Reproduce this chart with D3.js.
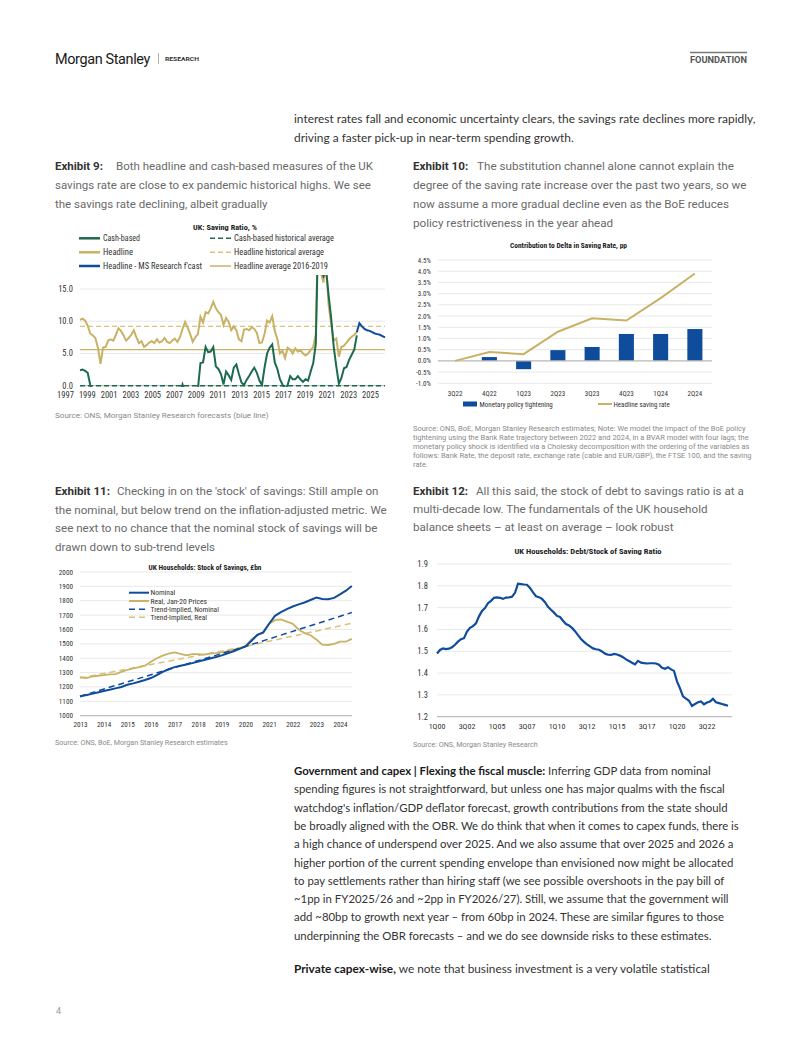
<!DOCTYPE html>
<html><head><meta charset="utf-8">
<script src="https://cdn.jsdelivr.net/npm/d3@7/dist/d3.min.js"></script>
<style>html,body{margin:0;padding:0;background:#fff;} svg{display:block;}</style>
</head><body>
<svg id="page" width="802" height="1037"></svg>
<script>
// ================= DATA =================
// Exhibit 9 – UK saving ratio, %, quarterly from 1997Q1
const ex9Headline = [10.2,10.4,10.1,9.3,8.1,7.8,7.4,5.9,3.4,5.9,
  6.0,7.0,7.2,7.0,7.9,8.9,8.5,7.8,7.0,7.4,
  7.9,8.6,7.5,6.6,6.9,6.0,6.3,6.7,6.9,6.6,
  7.2,6.7,6.9,7.4,6.8,6.6,7.0,7.3,6.8,7.5,
  8.8,9.9,9.0,8.0,6.8,7.5,8.0,10.7,9.8,11.4,
  11.2,12.0,13.0,12.0,11.4,11.0,9.4,10.5,9.9,8.6,
  9.2,8.6,7.2,6.9,8.7,8.8,8.6,9.1,8.8,8.2,
  6.6,6.7,8.0,10.1,9.8,10.8,8.5,7.2,5.0,5.4,
  4.3,5.9,5.6,5.0,5.8,5.3,5.5,5.0,4.7,5.0,
  5.5,6.0,8.0,27.0,17.5,16.0,19.0,12.5,9.5,7.0,
  7.3,4.5,6.0,6.2,6.7,7.2,7.6,7.9,8.3];
const ex9CashBased = [2.4,2.5,2.3,2.0,0.1,
  -1.0,-2.0,-2.5,-3.0,-2.0,-1.5,-2.0,-2.5,-3.0,-3.5,-3.0,-2.5,-3.0,-3.5,-4.0,-3.5,-3.0,-3.5,-4.0,-4.5,
  -4.0,-3.5,-4.0,-4.5,-5.0,-4.5,-4.0,-4.5,-5.0,-4.5,-4.0,-3.5,-3.0,-2.5,-1.0,
  0.2,-1.0,-2.0,-2.5,-2.0,-1.5,-0.5,
  3.5,3.6,6.0,5.2,5.3,6.0,3.0,2.6,1.8,0.2,
  2.2,1.6,0.9,2.8,3.3,1.8,0.5,0.1,0.9,1.5,
  2.2,2.8,2.0,0.8,0.1,2.8,5.0,5.9,6.4,3.6,
  2.6,1.0,0.2,-0.5,0.1,1.5,1.0,1.0,1.5,1.0,
  0.6,1.0,0.8,2.2,3.5,6.5,25.0,18.0,17.0,18.0,
  14.0,10.5,6.0,3.0,0.3,1.2,2.7,2.9,4.0,4.8,
  5.6,7.8];
const ex9ForecastStartIdx = 108;
const ex9Forecast = [8.3,9.7,9.2,8.8,8.6,8.5,8.3,8.1,8.0,7.9,7.7,7.5];
const ex9CashHistAvg = 0.0;
const ex9HeadlineHistAvg = 9.2;
const ex9Headline1619Avg = 5.6;
const ex9YTicks = [0, 5, 10, 15];
const ex9XTicks = [1997,1999,2001,2003,2005,2007,2009,2011,2013,2015,2017,2019,2021,2023,2025];

// Exhibit 10 – contribution to delta in saving rate, pp
const ex10Cats = ["3Q22","4Q22","1Q23","2Q23","3Q23","4Q23","1Q24","2Q24"];
const ex10Monetary = [0, 0.17, -0.37, 0.48, 0.62, 1.2, 1.2, 1.42];
const ex10Headline = [0, 0.4, 0.3, 1.3, 1.9, 1.8, 2.8, 3.9];
const ex10YTicks = [-1,-0.5,0,0.5,1,1.5,2,2.5,3,3.5,4,4.5];

// Exhibit 11 – stock of savings, £bn, quarterly from 2013Q1
const ex11Nominal = [1133,1143,1152,1162, 1172,1180,1190,1200, 1215,1225,1236,1248,
  1262,1282,1305,1323, 1338,1348,1356,1366, 1377,1388,1398,1408, 1420,1435,1448,1465,
  1482,1520,1562,1580, 1640,1695,1720,1742, 1760,1775,1788,1805, 1822,1812,1810,1820,
  1845,1870,1903];
const ex11Real = [1268,1262,1272,1278, 1282,1288,1290,1305, 1318,1330,1338,1348,
  1375,1400,1418,1432, 1440,1430,1420,1428, 1428,1425,1432,1435, 1440,1450,1458,1468,
  1482,1530,1560,1575, 1640,1665,1670,1655, 1640,1600,1575,1560, 1530,1495,1492,1500,
  1515,1515,1535];
const ex11TrendYears = [2013, 2016, 2020, 2024.5];
const ex11TrendNominal = [1135, 1285, 1482, 1718];
const ex11TrendReal = [1262, 1356, 1482, 1643];
const ex11YTicks = [1000,1100,1200,1300,1400,1500,1600,1700,1800,1900,2000];
const ex11XTicks = [2013,2014,2015,2016,2017,2018,2019,2020,2021,2022,2023,2024];

// Exhibit 12 – debt / stock of saving ratio, quarterly from 1Q00
const ex12Ratio = [1.490,1.506,1.513,1.510,1.512,1.518,1.530,1.544,1.555,1.560,
  1.590,1.607,1.615,1.628,1.660,1.685,1.698,1.720,1.731,1.745,
  1.747,1.745,1.740,1.746,1.747,1.750,1.768,1.810,1.808,1.806,
  1.805,1.790,1.770,1.752,1.748,1.740,1.725,1.704,1.690,1.677,
  1.662,1.657,1.640,1.625,1.618,1.607,1.592,1.574,1.556,1.543,
  1.532,1.522,1.513,1.509,1.507,1.499,1.489,1.484,1.483,1.488,
  1.485,1.480,1.473,1.463,1.455,1.447,1.440,1.456,1.448,1.446,
  1.444,1.445,1.445,1.444,1.438,1.424,1.420,1.427,1.417,1.410,
  1.362,1.330,1.293,1.283,1.273,1.249,1.258,1.266,1.270,1.257,
  1.265,1.270,1.282,1.266,1.262,1.258,1.254,1.250];
const ex12XLabels = ["1Q00","3Q02","1Q05","3Q07","1Q10","3Q12","1Q15","3Q17","1Q20","3Q22"];
const ex12YTicks = [1.2,1.3,1.4,1.5,1.6,1.7,1.8,1.9];

// ================= STYLE =================
const C_BLUE = "#0f4c9c", C_GOLD = "#c8b266", C_GOLD_L = "#d6c37a", C_GREEN = "#1d6a4e";
const C_GRID = "#e3e3e3", C_AXIS = "#bdbdbd", C_TXT = "#333";
const CH_FONT = "'Liberation Sans Narrow','Roboto Condensed','DejaVu Sans Condensed',Roboto,sans-serif";
const BODY_FONT = "Lato,'Open Sans',sans-serif";
const CAP_FONT = "Roboto,'Noto Sans',sans-serif";

const svg = d3.select("#page");
svg.append("rect").attr("width",802).attr("height",1037).attr("fill","#fff");

function textBlock(opt){
  const g = svg.append("g");
  const t = g.selectAll("text").data(opt.lines).join("text")
    .attr("x", opt.x).attr("y", (d,i)=>opt.y0 + i*opt.lh)
    .attr("font-family", opt.font).attr("font-size", opt.size).attr("fill", opt.color);
  t.each(function(d){
    const el = d3.select(this);
    (Array.isArray(d)?d:[{t:d}]).forEach(s=>{
      const ts = el.append("tspan").text(s.t);
      if (s.b) ts.attr("font-weight","bold").attr("fill", opt.boldColor||opt.color);
      if (s.x!=null) ts.attr("x", s.x);
    });
  });
  if (opt.refW){
    const w = t.nodes()[opt.ref].getComputedTextLength();
    t.attr("font-size", opt.size*opt.refW/w);
  }
  return g;
}
function fit(sel, w){ sel.attr("textLength", w).attr("lengthAdjust","spacingAndGlyphs"); return sel; }

// ================= HEADER =================
fit(svg.append("text").attr("x",55).attr("y",63.5).attr("font-family","Roboto,sans-serif")
  .attr("font-size",15.5).attr("fill","#1a1a1a").attr("letter-spacing",-0.4).text("Morgan Stanley"), 95);
svg.append("line").attr("x1",158.5).attr("x2",158.5).attr("y1",53).attr("y2",64).attr("stroke","#999").attr("stroke-width",0.8);
fit(svg.append("text").attr("x",165).attr("y",61).attr("font-family","Roboto,sans-serif").attr("font-weight","bold")
  .attr("font-size",5.5).attr("fill","#333").text("RESEARCH"), 34);
svg.append("line").attr("x1",690).attr("x2",747).attr("y1",52.5).attr("y2",52.5).attr("stroke","#777").attr("stroke-width",1.6);
fit(svg.append("text").attr("x",690).attr("y",63).attr("font-family","Roboto,sans-serif").attr("font-weight","bold")
  .attr("font-size",8.5).attr("fill","#555").text("FOUNDATION"), 57);

// ================= BODY TEXT =================
textBlock({x:294, y0:123, lh:19, font:BODY_FONT, size:13, color:C_TXT, ref:0, refW:462,
  lines:["interest rates fall and economic uncertainty clears, the savings rate declines more rapidly,",
         "driving a faster pick-up in near-term spending growth."]});

textBlock({x:294, y0:775, lh:18.3, font:BODY_FONT, size:13, color:C_TXT, boldColor:"#1a1a1a", ref:3, refW:445,
  lines:[[{t:"Government and capex | Flexing the fiscal muscle:",b:true},{t:" Inferring GDP data from nominal"}],
    "spending figures is not straightforward, but unless one has major qualms with the fiscal",
    "watchdog's inflation/GDP deflator forecast, growth contributions from the state should",
    "be broadly aligned with the OBR. We do think that when it comes to capex funds, there is",
    "a high chance of underspend over 2025. And we also assume that over 2025 and 2026 a",
    "higher portion of the current spending envelope than envisioned now might be allocated",
    "to pay settlements rather than hiring staff (we see possible overshoots in the pay bill of",
    "~1pp in FY2025/26 and ~2pp in FY2026/27). Still, we assume that the government will",
    "add ~80bp to growth next year \u2013 from 60bp in 2024. These are similar figures to those",
    "underpinning the OBR forecasts \u2013 and we do see downside risks to these estimates."]});
textBlock({x:294, y0:972.8, lh:18.3, font:BODY_FONT, size:13, color:C_TXT, boldColor:"#1a1a1a", ref:0, refW:416,
  lines:[[{t:"Private capex-wise,",b:true},{t:" we note that business investment is a very volatile statistical"}]]});

// ================= CAPTIONS =================
const capBase = {font:CAP_FONT, size:12.5, color:"#6a6a6a", boldColor:"#333"};
textBlock(Object.assign({x:55, y0:169.5, lh:19.2, ref:1, refW:316,
  lines:[[{t:"Exhibit 9:",b:true},{t:"Both headline and cash-based measures of the UK",x:116}],
    "savings rate are close to ex pandemic historical highs. We see",
    "the savings rate declining, albeit gradually"]}, capBase));
textBlock(Object.assign({x:413, y0:169.5, lh:19.2, ref:1, refW:334,
  lines:[[{t:"Exhibit 10:",b:true},{t:"The substitution channel alone cannot explain the",x:477}],
    "degree of the saving rate increase over the past two years, so we",
    "now assume a more gradual decline even as the BoE reduces",
    "policy restrictiveness in the year ahead"]}, capBase));
textBlock(Object.assign({x:55, y0:495, lh:18.7, ref:1, refW:332,
  lines:[[{t:"Exhibit 11:",b:true},{t:"Checking in on the 'stock' of savings: Still ample on",x:117}],
    "the nominal, but below trend on the inflation-adjusted metric. We",
    "see next to no chance that the nominal stock of savings will be",
    "drawn down to sub-trend levels"]}, capBase));
textBlock(Object.assign({x:413, y0:494.5, lh:18.3, ref:1, refW:295,
  lines:[[{t:"Exhibit 12:",b:true},{t:"All this said, the stock of debt to savings ratio is at a",x:476}],
    "multi-decade low. The fundamentals of the UK household",
    "balance sheets \u2013 at least on average \u2013 look robust"]}, capBase));

// ================= SOURCES =================
const srcFont = {font:CAP_FONT, size:6.5, color:"#8a8a8a"};
textBlock(Object.assign({x:55, y0:418, lh:9, ref:0, refW:214,
  lines:["Source: ONS, Morgan Stanley Research forecasts (blue line)"]}, srcFont));
textBlock(Object.assign({x:413, y0:430.5, lh:9.1, ref:0, refW:333,
  lines:["Source: ONS, BoE, Morgan Stanley Research estimates; Note: We model the impact of the BoE policy",
    "tightening using the Bank Rate trajectory between 2022 and 2024, in a BVAR model with four lags; the",
    "monetary policy shock is identified via a Cholesky decomposition with the ordering of the variables as",
    "follows: Bank Rate, the deposit rate, exchange rate (cable and EUR/GBP), the FTSE 100, and the saving",
    "rate."]}, srcFont));
textBlock(Object.assign({x:55, y0:745, lh:9, ref:0, refW:173,
  lines:["Source: ONS, BoE, Morgan Stanley Research estimates"]}, srcFont));
textBlock(Object.assign({x:413, y0:747, lh:9, ref:0, refW:125,
  lines:["Source: ONS, Morgan Stanley Research"]}, srcFont));

svg.append("text").attr("x",56).attr("y",1014).attr("font-family",CAP_FONT).attr("font-size",9).attr("fill","#999").text("4");

// helpers for charts
function chartTitle(txt, cx, y, w){
  return fit(svg.append("text").attr("x",cx - w/2).attr("y",y).attr("font-family",CH_FONT)
    .attr("font-weight","bold").attr("font-size",8).attr("fill","#222").text(txt), w);
}
function grid(g, ys, x1, x2){
  g.selectAll(null).data(ys).join("line").attr("x1",x1).attr("x2",x2)
    .attr("y1",d=>d.y).attr("y2",d=>d.y)
    .attr("stroke",d=>d.base?C_AXIS:C_GRID).attr("stroke-width",d=>d.base?1.3:0.8);
}

// ================= EXHIBIT 9 =================
(function(){
  const g = svg.append("g");
  const x = d3.scaleLinear().domain([1997, 2026.75]).range([80, 385]);
  const xLab = d3.scaleLinear().domain([1997, 2025]).range([65, 370]);
  const y = d3.scaleLinear().domain([0, 15]).range([385.7, 289]);
  grid(g, ex9YTicks.map(v=>({y:y(v), base:v===0})), 80, 385);
  g.selectAll(null).data(ex9YTicks).join("text").attr("x",73).attr("y",v=>y(v)+3)
    .attr("text-anchor","end").attr("font-family",CH_FONT).attr("font-size",8.5).attr("fill",C_TXT)
    .text(d3.format(".1f"));
  const ax = g.append("g").attr("transform","translate(0,389)")
    .call(d3.axisBottom(xLab).tickValues(ex9XTicks).tickFormat(d3.format("d")).tickSize(0).tickPadding(3));
  ax.select(".domain").remove();
  ax.selectAll("text").attr("font-family",CH_FONT).attr("font-size",8.5).attr("fill",C_TXT);

  svg.append("defs").append("clipPath").attr("id","clip9").append("rect")
    .attr("x",78).attr("y",275).attr("width",310).attr("height",y(0)+1.3-275);
  const cg = g.append("g").attr("clip-path","url(#clip9)");
  const hl = (v,color,dash,w)=>cg.append("line").attr("x1",80).attr("x2",385).attr("y1",y(v)).attr("y2",y(v))
    .attr("stroke",color).attr("stroke-width",w).attr("stroke-dasharray",dash);
  hl(ex9Headline1619Avg, C_GOLD, null, 1.4);
  hl(ex9HeadlineHistAvg, C_GOLD_L, "5,3", 1.4);
  const line = d3.line().x(d=>x(d[0])).y(d=>y(d[1]));
  const q = (arr, s=0)=>arr.map((v,i)=>[1997 + (i+s)/4, v]);
  cg.append("path").attr("d",line(q(ex9Headline))).attr("fill","none").attr("stroke",C_GOLD).attr("stroke-width",2);
  cg.append("path").attr("d",line(q(ex9CashBased))).attr("fill","none").attr("stroke",C_GREEN).attr("stroke-width",2);
  cg.append("path").attr("d",line(q(ex9Forecast, ex9ForecastStartIdx))).attr("fill","none").attr("stroke",C_BLUE).attr("stroke-width",2);
  hl(ex9CashHistAvg, C_GREEN, "5,3", 1.5);

  chartTitle("UK: Saving Ratio, %", 225, 229.5, 64);
  const leg = [
    {t:"Cash-based", x:79, y:238.3, c:C_GREEN, d:null, w:2.5, tw:37},
    {t:"Headline", x:79, y:252.3, c:C_GOLD, d:null, w:2.5, tw:30},
    {t:"Headline - MS Research f'cast", x:79, y:266, c:C_BLUE, d:null, w:2.5, tw:99},
    {t:"Cash-based historical average", x:210, y:238.3, c:C_GREEN, d:"5,3", w:1.5, tw:100},
    {t:"Headline historical average", x:210, y:252.3, c:C_GOLD_L, d:"5,3", w:1.5, tw:90},
    {t:"Headline average 2016-2019", x:210, y:266, c:C_GOLD, d:null, w:1.5, tw:94}];
  leg.forEach(l=>{
    g.append("line").attr("x1",l.x).attr("x2",l.x+21).attr("y1",l.y).attr("y2",l.y)
      .attr("stroke",l.c).attr("stroke-width",l.w).attr("stroke-dasharray",l.d);
    fit(g.append("text").attr("x",l.x+24).attr("y",l.y+3).attr("font-family",CH_FONT).attr("font-size",8.5)
      .attr("fill",C_TXT).text(l.t), l.tw);
  });
})();

// ================= EXHIBIT 10 =================
(function(){
  const g = svg.append("g");
  const x = d3.scaleBand().domain(ex10Cats).range([438,712]).paddingInner(0.56).paddingOuter(0.28);
  const y = d3.scaleLinear().domain([-1, 4.5]).range([383.3, 260]);
  grid(g, ex10YTicks.map(v=>({y:y(v), base:false})), 438, 712);
  g.selectAll(null).data(ex10YTicks).join("text").attr("x",431).attr("y",v=>y(v)+2.5)
    .attr("text-anchor","end").attr("font-family",CH_FONT).attr("font-size",7).attr("fill",C_TXT)
    .text(v=>v.toFixed(1)+"%");
  g.selectAll(null).data(ex10Monetary).join("rect")
    .attr("x",(d,i)=>x(ex10Cats[i])).attr("width",x.bandwidth())
    .attr("y",d=>y(Math.max(0,d))).attr("height",d=>Math.abs(y(d)-y(0))).attr("fill",C_BLUE);
  g.append("line").attr("x1",438).attr("x2",712).attr("y1",y(0)).attr("y2",y(0)).attr("stroke",C_AXIS).attr("stroke-width",1.2);
  const line = d3.line().x((d,i)=>x(ex10Cats[i])+x.bandwidth()/2).y(d=>y(d));
  g.append("path").attr("d",line(ex10Headline)).attr("fill","none").attr("stroke",C_GOLD).attr("stroke-width",2);
  const ax = g.append("g").attr("transform","translate(0,389)")
    .call(d3.axisBottom(x).tickSize(0).tickPadding(2));
  ax.select(".domain").remove();
  ax.selectAll("text").attr("font-family",CH_FONT).attr("font-size",7).attr("fill",C_TXT);
  chartTitle("Contribution to Delta in Saving Rate, pp", 568.5, 247.5, 117);
  g.append("rect").attr("x",463).attr("y",401.5).attr("width",14).attr("height",5).attr("fill",C_BLUE);
  g.append("text").attr("x",479.5).attr("y",406.5).attr("font-family",CH_FONT).attr("font-size",7).attr("fill",C_TXT).text("Monetary policy tightening");
  g.append("line").attr("x1",598).attr("x2",612).attr("y1",404).attr("y2",404).attr("stroke",C_GOLD).attr("stroke-width",2);
  g.append("text").attr("x",613.5).attr("y",406.5).attr("font-family",CH_FONT).attr("font-size",7).attr("fill",C_TXT).text("Headline saving rate");
})();

// ================= EXHIBIT 11 =================
(function(){
  const g = svg.append("g");
  const x = d3.scaleLinear().domain([2013, 2024]).range([80, 340]);
  const y = d3.scaleLinear().domain([1000, 2000]).range([715.7, 572]);
  grid(g, ex11YTicks.map(v=>({y:y(v), base:v===1000})), 80, 352);
  g.selectAll(null).data(ex11YTicks).join("text").attr("x",73).attr("y",v=>y(v)+2.5)
    .attr("text-anchor","end").attr("font-family",CH_FONT).attr("font-size",7.2).attr("fill",C_TXT).text(d=>d);
  const ax = g.append("g").attr("transform","translate(0,720)")
    .call(d3.axisBottom(x).tickValues(ex11XTicks).tickFormat(d3.format("d")).tickSize(0).tickPadding(2));
  ax.select(".domain").remove();
  ax.selectAll("text").attr("font-family",CH_FONT).attr("font-size",7.2).attr("fill",C_TXT);
  const line = d3.line().x(d=>x(d[0])).y(d=>y(d[1]));
  const q = arr=>arr.map((v,i)=>[2013 + i/4, v]);
  const tr = arr=>arr.map((v,i)=>[ex11TrendYears[i], v]);
  g.append("path").attr("d",line(tr(ex11TrendReal))).attr("fill","none").attr("stroke",C_GOLD_L).attr("stroke-width",1.5).attr("stroke-dasharray","6,4");
  g.append("path").attr("d",line(q(ex11Real))).attr("fill","none").attr("stroke",C_GOLD).attr("stroke-width",1.8);
  g.append("path").attr("d",line(tr(ex11TrendNominal))).attr("fill","none").attr("stroke",C_BLUE).attr("stroke-width",1.5).attr("stroke-dasharray","6,4");
  g.append("path").attr("d",line(q(ex11Nominal))).attr("fill","none").attr("stroke",C_BLUE).attr("stroke-width",2);
  chartTitle("UK Households: Stock of Savings, £bn", 205, 569.5, 113);
  const leg = [
    {t:"Nominal", y:592.7, c:C_BLUE, d:null, w:2},
    {t:"Real, Jan-20 Prices", y:601, c:C_GOLD, d:null, w:2},
    {t:"Trend-Implied, Nominal", y:609.3, c:C_BLUE, d:"6,4", w:1.5},
    {t:"Trend-Implied, Real", y:617.3, c:C_GOLD_L, d:"6,4", w:1.5}];
  leg.forEach(l=>{
    g.append("line").attr("x1",129).attr("x2",149).attr("y1",l.y).attr("y2",l.y)
      .attr("stroke",l.c).attr("stroke-width",l.w).attr("stroke-dasharray",l.d);
    g.append("text").attr("x",150.5).attr("y",l.y+2.6).attr("font-family",CH_FONT).attr("font-size",7.5)
      .attr("fill",C_TXT).text(l.t);
  });
})();

// ================= EXHIBIT 12 =================
(function(){
  const g = svg.append("g");
  const x = d3.scaleLinear().domain([0, 97]).range([437, 728]);
  const y = d3.scaleLinear().domain([1.2, 1.9]).range([716.7, 564]);
  grid(g, ex12YTicks.map(v=>({y:y(v), base:v===1.2})), 437, 732);
  g.selectAll(null).data(ex12YTicks).join("text").attr("x",428).attr("y",v=>y(v)+3)
    .attr("text-anchor","end").attr("font-family",CH_FONT).attr("font-size",8.5).attr("fill",C_TXT).text(d3.format(".1f"));
  g.selectAll(null).data(ex12XLabels).join("text").attr("x",(d,i)=>x(i*10)).attr("y",728.5)
    .attr("text-anchor","middle").attr("font-family",CH_FONT).attr("font-size",8).attr("fill",C_TXT).text(d=>d);
  const line = d3.line().x((d,i)=>x(i)).y(d=>y(d));
  g.append("path").attr("d",line(ex12Ratio)).attr("fill","none").attr("stroke",C_BLUE).attr("stroke-width",2.2);
  chartTitle("UK Households: Debt/Stock of Saving Ratio", 588, 554, 147);
})();
</script>
</body></html>
